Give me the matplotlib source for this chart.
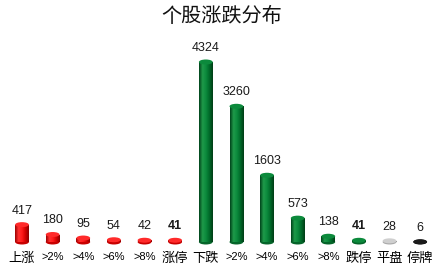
import matplotlib
matplotlib.use("Agg")
import matplotlib.pyplot as plt
import numpy as np
from matplotlib.patches import Ellipse, Rectangle
from matplotlib.colors import LinearSegmentedColormap

plt.rcParams['font.family'] = ['Noto Sans CJK SC', 'DejaVu Sans']

categories = ["上涨", ">2%", ">4%", ">6%", ">8%", "涨停", "下跌", ">2%", ">4%", ">6%", ">8%", "跌停", "平盘", "停牌"]
values = [417, 180, 95, 54, 42, 41, 4324, 3260, 1603, 573, 138, 41, 28, 6]
bold_labels = [False, False, False, False, False, True, False, False, False, False, False, True, False, False]
groups = ["red"] * 6 + ["green"] * 6 + ["gray", "black"]

palettes = {
    "red": (["#9c0000", "#ff3030", "#ff1a1a", "#d40000", "#8a0000"], "#ff2a2a", "#c80000"),
    "green": (["#00431a", "#1f9a4a", "#0b8a3c", "#006a2a", "#003d16"], "#0c8a3c", "#06652a"),
    "gray": (["#9a9a9a", "#e8e8e8", "#d0d0d0", "#b0b0b0", "#909090"], "#cfcfcf", "#aaaaaa"),
    "black": (["#000000", "#505050", "#303030", "#101010", "#000000"], "#1a1a1a", "#000000"),
}

W, H = 444, 272
fig = plt.figure(figsize=(W / 100, H / 100), dpi=100)
ax_left = 6.7 / W
ax_right = 435.5 / W
ax_top_px, ax_bot_px = 30, 250
ax = fig.add_axes([ax_left, 1 - ax_bot_px / H, ax_right - ax_left, (ax_bot_px - ax_top_px) / H])

scale = 4324 / 180.0  # data units per pixel
ax.set_xlim(-0.5, len(categories) - 0.5)
ax.set_ylim(-8 * scale, 4324 + 32 * scale)

bw = 0.45
eh = 5 * scale
x = np.arange(len(categories))
for xi, v, g, b in zip(x, values, groups, bold_labels):
    cols, topc, botc = palettes[g]
    cmap = LinearSegmentedColormap.from_list(g, cols)
    grad = np.linspace(0, 1, 64).reshape(1, -1)
    x0, x1 = xi - bw / 2, xi + bw / 2
    ax.add_patch(Ellipse((xi, 0), bw, eh, facecolor=botc, edgecolor='none', zorder=2))
    rect = Rectangle((x0, 0), bw, v, facecolor='none', edgecolor='none')
    ax.add_patch(rect)
    im = ax.imshow(grad, cmap=cmap, extent=[x0, x1, 0, v], aspect='auto', zorder=3, interpolation='bilinear')
    im.set_clip_path(rect)
    ax.add_patch(Ellipse((xi, v), bw, eh, facecolor=topc, edgecolor='none', zorder=4))
    ax.annotate(str(v), (xi, v + eh / 2), xytext=(0, 4), textcoords='offset points',
                ha='center', va='bottom', fontsize=9, color='#1a1a1a',
                family=['Liberation Sans', 'DejaVu Sans'],
                fontweight='bold' if b else 'normal')

ax.set_xticks(x)
ax.set_xticklabels(categories)
for lbl, c in zip(ax.get_xticklabels(), categories):
    if c.startswith('>'):
        lbl.set_fontsize(8)
        lbl.set_family(['Liberation Sans', 'DejaVu Sans'])
    else:
        lbl.set_fontsize(9.5)
ax.tick_params(axis='x', length=0, pad=1.5)
ax.set_yticks([])
for s in ax.spines.values():
    s.set_visible(False)

fig.text(0.5, 1 - 17 / H, "个股涨跌分布", ha='center', va='center', fontsize=14.5, color='#111111')

fig.savefig("out.png", dpi=100)
